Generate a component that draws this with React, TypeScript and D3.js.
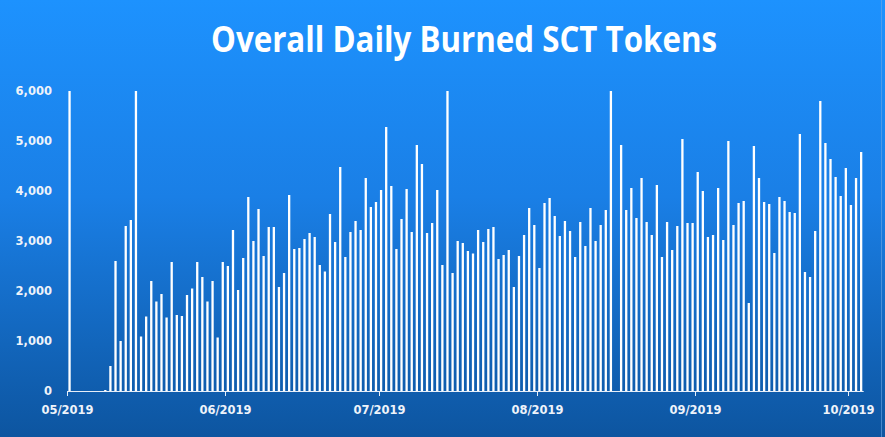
import React from "react";
import * as d3 from "d3";

const TITLE = "Overall Daily Burned SCT Tokens";
const START_DATE = "2019-05-01";
const END_DATE = "2019-10-04";
const Y_TICKS = [0, 1000, 2000, 3000, 4000, 5000, 6000];
const X_TICK_DATES = ["2019-05-01", "2019-06-01", "2019-07-01", "2019-08-01", "2019-09-01", "2019-10-01"];

// daily burned values, one per day starting 2019-05-01
const mayValues = [6000, 0, 0, 0, 0, 0, 0, 20, 500, 2600, 1000, 3300, 3420, 6000, 1090, 1490, 2200, 1790, 1940, 1470, 2580, 1520, 1500, 1920, 2050, 2580, 2280, 1790, 2200, 1070, 2580];
const juneValues = [2500, 3220, 2020, 2660, 3880, 3000, 3640, 2700, 3280, 3280, 2080, 2360, 3920, 2840, 2860, 3040, 3160, 3080, 2520, 2390, 3540, 2980, 4480, 2680, 3180, 3400, 3220, 4260, 3680, 3780];
const julyValues = [4020, 5280, 4100, 2840, 3440, 4040, 3180, 4920, 4540, 3160, 3360, 4020, 2520, 6000, 2360, 3000, 2960, 2800, 2750, 3220, 2980, 3240, 3280, 2640, 2720, 2820, 2080, 2700, 3120, 3660, 3320];
const augustValues = [2460, 3760, 3860, 3500, 3100, 3400, 3200, 2680, 3380, 2900, 3660, 3000, 3320, 3620, 6000, 0, 4920, 3620, 4060, 3460, 4260, 3380, 3120, 4120, 2680, 3380, 2820, 3300, 5040, 3360, 3360];
const septemberValues = [4380, 4000, 3080, 3120, 4060, 3020, 5000, 3320, 3760, 3800, 1760, 4900, 4260, 3780, 3740, 2760, 3880, 3800, 3580, 3560, 5140, 2380, 2280, 3200, 5800, 4960, 4640, 4280, 3900, 4460];
const octoberValues = [3720, 4260, 4780];

const values = [...mayValues, ...juneValues, ...julyValues, ...augustValues, ...septemberValues, ...octoberValues];

const W = 885;
const H = 437;
const parse = d3.utcParse("%Y-%m-%d");

export default function App() {
  const start = parse(START_DATE)!;
  const end = parse(END_DATE)!;
  const days = d3.utcDay.range(start, end);
  const x = d3.scaleUtc().domain([start, end]).range([67, 863.7]);
  const y = d3.scaleLinear().domain([0, 6000]).range([391, 91]);
  const fmtY = d3.format(",");
  const fmtX = d3.utcFormat("%m/%Y");
  const barW = 2.3;
  const labelFont = "'DejaVu Sans', Verdana, sans-serif";

  return (
    <svg width={W} height={H} style={{ position: "absolute", left: 0, top: 0 }}>
      <defs>
        <linearGradient id="bg" x1="0" y1="0" x2="0" y2="1">
          <stop offset="0" stopColor="#1d92fe" />
          <stop offset="0.45" stopColor="#1a7fe6" />
          <stop offset="1" stopColor="#0d55a0" />
        </linearGradient>
      </defs>
      <rect x={0} y={0} width={W} height={H} fill="url(#bg)" />
      <line x1={881.5} x2={881.5} y1={0} y2={H} stroke="#6aa8e8" strokeWidth={1} opacity={0.6} />
      <text
        x={464}
        y={52}
        textAnchor="middle"
        fill="#ffffff"
        fontFamily="'Open Sans', sans-serif"
        fontWeight={700}
        fontSize={35}
        textLength={506}
        lengthAdjust="spacingAndGlyphs"
      >
        {TITLE}
      </text>
      {Y_TICKS.map((t) => (
        <text
          key={t}
          x={52}
          y={y(t)}
          dy="0.36em"
          textAnchor="end"
          fill="#eef3fa"
          fontFamily={labelFont}
          fontWeight={700}
          fontSize={11.5}
        >
          {fmtY(t)}
        </text>
      ))}
      {values.slice(0, days.length).map((v, i) => {
        const d = days[i];
        const cx = x(d3.utcHour.offset(d, 12));
        return (
          <rect
            key={i}
            x={cx - barW / 2}
            y={y(v)}
            width={barW}
            height={Math.max(0, y(0) - y(v))}
            fill="#ffffff"
          />
        );
      })}
      <line x1={67} x2={863.7} y1={391.5} y2={391.5} stroke="#e6eef8" strokeWidth={1} />
      {X_TICK_DATES.map((s) => {
        const d = parse(s)!;
        const px = Math.round(x(d)) + 0.5;
        return (
          <g key={s}>
            <line x1={px} x2={px} y1={391} y2={396} stroke="#e6eef8" strokeWidth={1} />
            <text
              x={px}
              y={414}
              textAnchor="middle"
              fill="#eef3fa"
              fontFamily={labelFont}
              fontWeight={700}
              fontSize={11.5}
            >
              {fmtX(d)}
            </text>
          </g>
        );
      })}
    </svg>
  );
}
